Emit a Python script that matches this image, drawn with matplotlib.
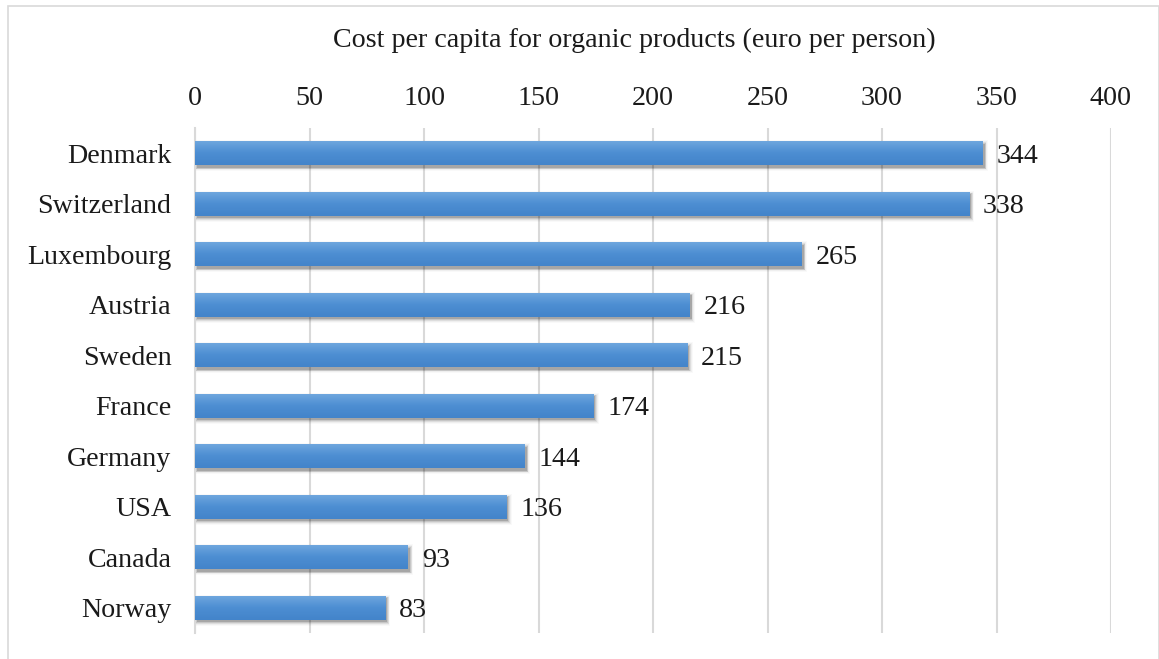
import numpy as np
import matplotlib.pyplot as plt
from matplotlib.patches import Rectangle
from matplotlib.colors import LinearSegmentedColormap

countries = ["Denmark", "Switzerland", "Luxembourg", "Austria", "Sweden",
             "France", "Germany", "USA", "Canada", "Norway"]
values = [344, 338, 265, 216, 215, 174, 144, 136, 93, 83]
xticks = [0, 50, 100, 150, 200, 250, 300, 350, 400]

plt.rcParams['font.family'] = ['Liberation Serif', 'DejaVu Serif']
fs = 20.2

W, H = 1159, 659
fig = plt.figure(figsize=(W / 100, H / 100), dpi=100)
ax = fig.add_axes([195 / W, 1 - 633 / H, (1111 - 195) / W, (633 - 128) / H])

# outer chart frame
fig.add_artist(Rectangle((8 / W, -0.01), (W - 8) / W, 1 - 6 / H + 0.01,
                         transform=fig.transFigure, fill=False,
                         edgecolor='#d9d9d9', linewidth=1.2))

ypos = np.arange(len(countries))
h = 0.48
grad = LinearSegmentedColormap.from_list('bar', ['#71a8df', '#4d8ed2', '#4384ca'])

ax.set_xlim(0, 400)
ax.set_ylim(len(countries) - 0.5, -0.5)

# soft drop shadow below and right of each bar (pixel sizes -> data units)
px_x = 400 / 916
px_y = 10 / 505
for y, v in zip(ypos, values):
    for k, a in enumerate([0.16, 0.10, 0.07, 0.04, 0.025]):
        e = k * 0.8
        ax.add_patch(Rectangle((2 * px_x - e * px_x, y - h / 2 + (2.5 - e) * px_y),
                               v + 2 * e * px_x, h + 2 * e * px_y,
                               facecolor='black', alpha=a, linewidth=0, zorder=2))
bars = ax.barh(ypos, values, height=h, color='#5b9bd5', zorder=3)
g = np.linspace(0, 1, 64).reshape(-1, 1)
for b in bars:
    x0, y0 = b.get_x(), b.get_y()
    im = ax.imshow(g, cmap=grad, aspect='auto', zorder=4,
                   extent=(x0, x0 + b.get_width(), y0 + b.get_height(), y0))
    im.set_clip_path(b)
ax.set_xlim(0, 400)
ax.set_ylim(len(countries) - 0.5, -0.5)

for y, v in zip(ypos, values):
    ax.text(v + 6, y + 0.06, str(v), va='center', ha='left', fontsize=fs, color='#1a1a1a')

ax.set_xticks(xticks)
ax.set_yticks(ypos)
ax.set_yticklabels(countries)
ax.xaxis.tick_top()
ax.tick_params(axis='both', length=0, labelsize=fs, colors='#1a1a1a')
ax.tick_params(axis='x', pad=12)
ax.tick_params(axis='y', pad=17)
for lab in ax.get_yticklabels():
    lab.set_y(lab.get_position()[1])
ax.grid(axis='x', color='#d9d9d9', linewidth=1.5, zorder=0)
ax.set_axisbelow(True)
for s in ['top', 'right', 'bottom']:
    ax.spines[s].set_visible(False)
ax.spines['left'].set_color('#d9d9d9')
ax.spines['left'].set_linewidth(1.5)

fig.text(634 / W, 1 - 40 / H, 'Cost per capita for organic products (euro per person)',
         ha='center', va='center', fontsize=fs, color='#1a1a1a')

fig.savefig('out.png', dpi=100, facecolor='white')
